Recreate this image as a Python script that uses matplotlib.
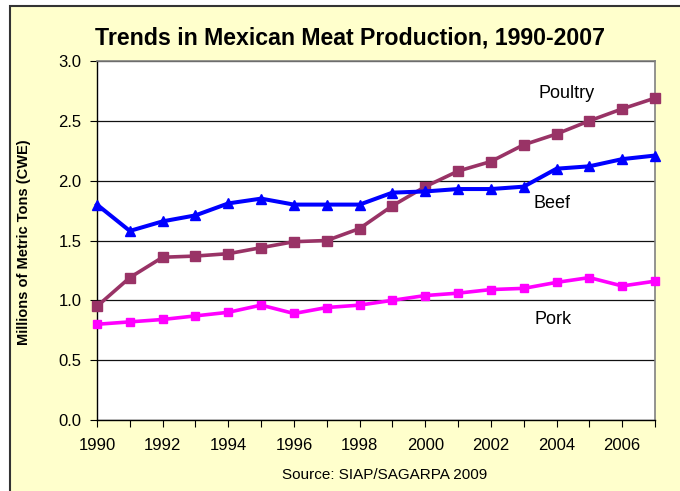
import numpy as np
import matplotlib.pyplot as plt
from matplotlib.patches import Rectangle

plt.rcParams['font.family'] = ['Liberation Sans', 'DejaVu Sans']

years = list(range(1990, 2008))
beef = [1.80, 1.58, 1.66, 1.71, 1.81, 1.85, 1.80, 1.80, 1.80, 1.90,
        1.91, 1.93, 1.93, 1.95, 2.10, 2.12, 2.18, 2.21]
poultry = [0.95, 1.19, 1.36, 1.37, 1.39, 1.44, 1.49, 1.50, 1.60, 1.79,
           1.95, 2.08, 2.16, 2.30, 2.39, 2.50, 2.60, 2.69]
pork = [0.80, 0.82, 0.84, 0.87, 0.90, 0.96, 0.89, 0.94, 0.96, 1.00,
        1.04, 1.06, 1.09, 1.10, 1.15, 1.19, 1.12, 1.16]

fig = plt.figure(figsize=(6.8, 4.91), dpi=100, facecolor='white')
# cream panel with dark border on top/left
fig.patches.append(Rectangle((10 / 680, -0.1), 1.2, 1.1 - 6 / 491, transform=fig.transFigure,
                             facecolor='#FFFFCC', edgecolor='#333333', linewidth=1.5, zorder=-5))

ax = fig.add_axes([97 / 680, 1 - 420 / 491, 558 / 680, 359 / 491])
ax.set_zorder(2)
ax.set_facecolor('white')

ax.plot(years, poultry, color='#993366', lw=2.6, marker='s', ms=7.2, zorder=3, clip_on=False)
ax.plot(years, beef, color='#0000FF', lw=2.9, marker='^', ms=7, zorder=4, clip_on=False)
ax.plot(years, pork, color='#FF00FF', lw=2.6, marker='s', ms=6, zorder=3, clip_on=False)

ax.set_xlim(1990, 2007)
ax.set_ylim(0, 3.0)
ax.set_yticks(np.arange(0, 3.01, 0.5))
ax.set_yticklabels(['%.1f' % v for v in np.arange(0, 3.01, 0.5)])
ax.set_xticks(years, minor=True)
ax.set_xticks(range(1990, 2008, 2))
ax.tick_params(axis='both', labelsize=12, direction='out', length=5, width=0.8, color='black')
ax.tick_params(axis='x', which='minor', length=5, width=0.8)
ax.tick_params(axis='x', pad=8)
ax.tick_params(axis='y', pad=6)
ax.grid(axis='y', color='#111111', lw=0.9)
ax.set_axisbelow(True)
for s in ['left', 'bottom']:
    ax.spines[s].set_color('black')
    ax.spines[s].set_linewidth(1.0)
for s in ['top', 'right']:
    ax.spines[s].set_color('#808080')
    ax.spines[s].set_linewidth(1.2)

ax.text(2004.3, 2.73, 'Poultry', fontsize=13, ha='center', va='center')
ax.text(2003.85, 1.81, 'Beef', fontsize=13, ha='center', va='center')
ax.text(2003.9, 0.84, 'Pork', fontsize=13, ha='center', va='center')

fig.text(350 / 680, 1 - 38 / 491, 'Trends in Mexican Meat Production, 1990-2007',
         fontsize=16.7, fontweight='bold', ha='center', va='center')
fig.text(24 / 680, 1 - 242 / 491, 'Millions of Metric Tons (CWE)', fontsize=10.5,
         fontweight='bold', rotation=90, ha='center', va='center')
fig.text(385 / 680, 1 - 475 / 491, 'Source: SIAP/SAGARPA 2009', fontsize=11,
         ha='center', va='center')

fig.savefig('out.png', dpi=100)
